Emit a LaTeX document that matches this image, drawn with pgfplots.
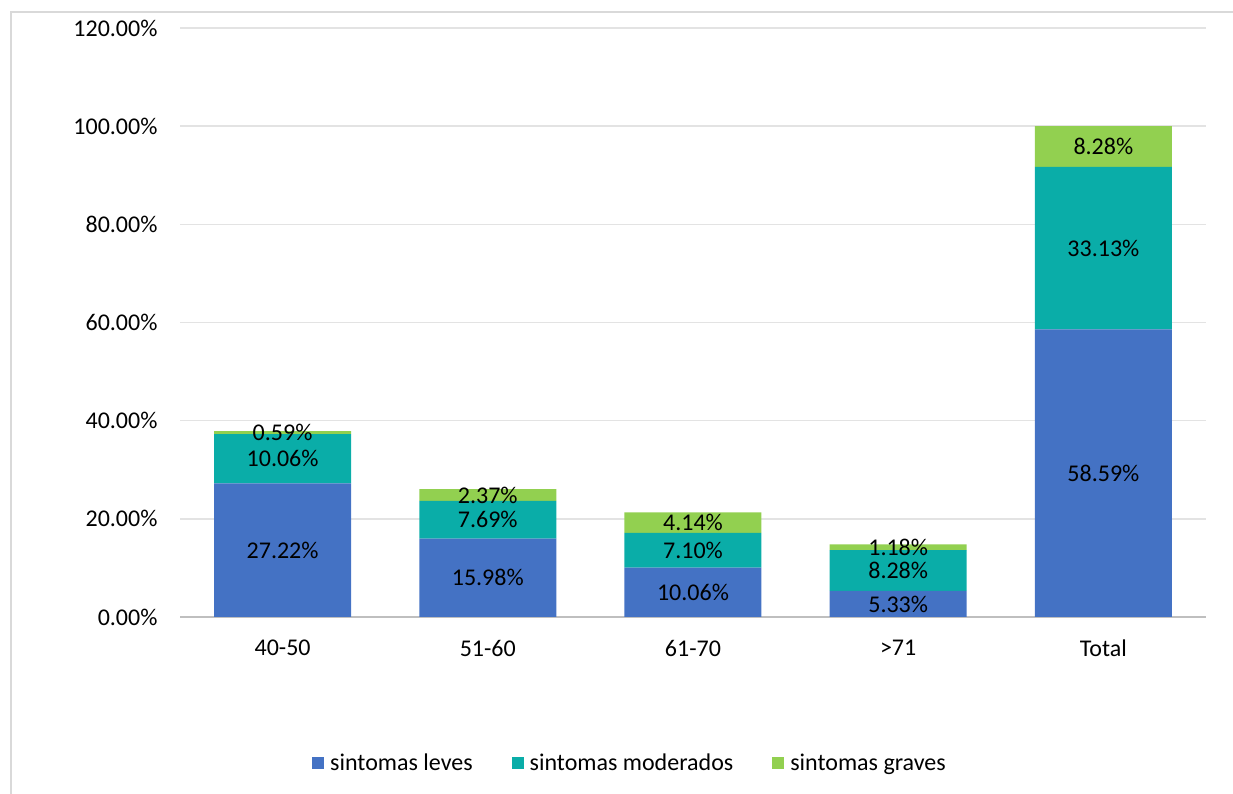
\documentclass[border=0pt]{standalone}
\usepackage{fontspec}
\setmainfont{Carlito}
\usepackage{pgfplots}
\pgfplotsset{compat=1.18}
\usepackage{pgfplotstable}
\definecolor{cleves}{HTML}{4472C4}
\definecolor{cmod}{HTML}{0AADA8}
\definecolor{cgrav}{HTML}{92D050}
\definecolor{gridc}{HTML}{E3E3E3}
\definecolor{basec}{HTML}{BFBFBF}
\definecolor{framec}{HTML}{D9D9D9}

\pgfplotstableread{
x leves moderados graves
0 27.22 10.06 0.59
1 15.98 7.69 2.37
2 10.06 7.10 4.14
3 5.33 8.28 1.18
4 58.59 33.13 8.28
}\datatable

% label positions: segment centres
\pgfplotstableread{
x y label
0 13.61 27.22\%
1 7.99 15.98\%
2 5.03 10.06\%
3 2.665 5.33\%
4 29.295 58.59\%
0 32.25 10.06\%
1 19.825 7.69\%
2 13.61 7.10\%
3 9.47 8.28\%
4 75.155 33.13\%
0 37.575 0.59\%
1 24.855 2.37\%
2 19.23 4.14\%
3 14.2 1.18\%
4 95.86 8.28\%
}\labeltable

\begin{document}
\begin{tikzpicture}
\useasboundingbox (0,0) rectangle (1233bp,794bp);
\draw[line width=1.5bp, framec] (11bp,0) -- (11bp,782bp) -- (1233bp,782bp);
\begin{axis}[
  at={(180bp,177bp)}, anchor=south west,
  scale only axis, width=1026bp, height=589bp,
  font=\fontsize{24bp}{29bp}\selectfont,
  ybar stacked, bar width=137bp,
  xmin=-0.5, xmax=4.5, ymin=0, ymax=120,
  xtick={0,1,2,3,4},
  xticklabels={40-50,51-60,61-70,>71,Total},
  ytick={0,20,40,60,80,100,120},
  yticklabels={0.00\%,20.00\%,40.00\%,60.00\%,80.00\%,100.00\%,120.00\%},
  tick style={draw=none},
  axis x line*=bottom, axis y line*=left,
  x axis line style={basec, line width=1.5bp, -},
  y axis line style={draw=none},
  ymajorgrids, grid style={gridc, line width=1.5bp},
  yticklabel style={anchor=east, xshift=-19bp},
  xticklabel style={anchor=center, yshift=-31bp},
  legend style={at={(0.4386,-0.248)}, anchor=center, draw=none, fill=none,
    legend columns=3, font=\fontsize{24bp}{29bp}\selectfont,
    /tikz/every even column/.append style={column sep=37bp}},
  legend image code/.code={\fill[#1] (0bp,-6bp) rectangle (12bp,6bp);},
  clip=false,
]
\addplot[fill=cleves, draw=none] table[x=x,y=leves] {\datatable};
\addplot[fill=cmod, draw=none] table[x=x,y=moderados] {\datatable};
\addplot[fill=cgrav, draw=none] table[x=x,y=graves] {\datatable};
\legend{\,sintomas leves, \,sintomas moderados, \,sintomas graves}
\end{axis}
\begin{axis}[
  at={(180bp,177bp)}, anchor=south west,
  scale only axis, width=1026bp, height=589bp,
  font=\fontsize{24bp}{29bp}\selectfont,
  xmin=-0.5, xmax=4.5, ymin=0, ymax=120,
  hide axis, clip=false,
]
\addplot[only marks, mark=none, nodes near coords, point meta=explicit symbolic,
  every node near coord/.style={anchor=center, text=black, inner sep=0pt,
    font=\fontsize{24bp}{29bp}\selectfont}]
  table[x=x, y=y, meta=label] {\labeltable};
\end{axis}
\end{tikzpicture}
\end{document}
